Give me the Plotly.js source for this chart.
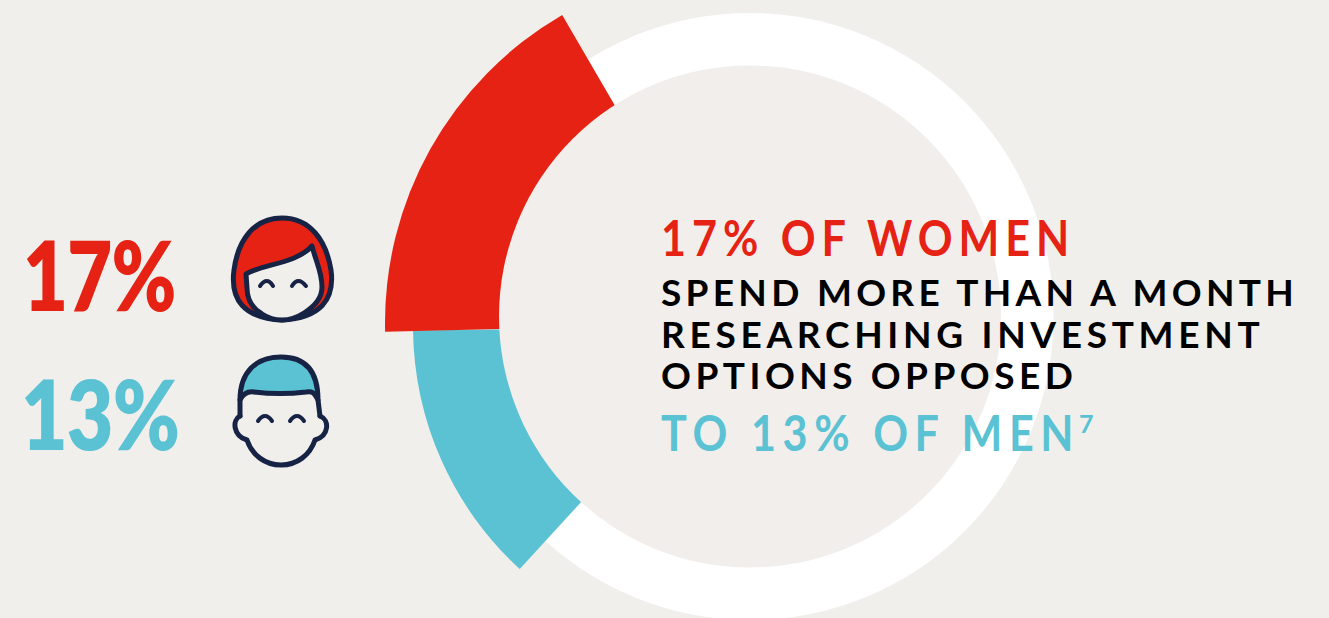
<!DOCTYPE html>
<html>
<head>
<meta charset="utf-8">
<script src="https://cdn.plot.ly/plotly-3.0.1.min.js"></script>
<style>
html,body{margin:0;padding:0;background:#F0EFEB;overflow:hidden;width:1329px;height:618px}
#chart{position:absolute;left:0;top:-131px;width:1329px;height:900px}
.shapelayer path{stroke-linecap:round;stroke-linejoin:round}
.annotation[data-index="0"] text{letter-spacing:-1px;transform-box:fill-box;transform-origin:0 50%;transform:scaleX(.8)}
.annotation[data-index="1"] text{letter-spacing:-1px;transform-box:fill-box;transform-origin:0 50%;transform:scaleX(.83)}
.annotation[data-index="2"] text{letter-spacing:6.8px;transform-box:fill-box;transform-origin:0 50%;transform:scaleX(.88)}
.annotation[data-index="3"] text{letter-spacing:4.3px}
.annotation[data-index="4"] text{letter-spacing:4.7px}
.annotation[data-index="5"] text{letter-spacing:4.5px}
.annotation[data-index="6"] text{letter-spacing:7.5px;transform-box:fill-box;transform-origin:0 50%;transform:scaleX(.88)}
</style>
</head>
<body>
<div id="chart"></div>
<script>
// Data
var groups = ['Women', 'Men'];
var sharePercent = [17, 13];
var bigLabels = ['17%', '13%'];
var textLines = ['17% OF WOMEN', 'SPEND MORE THAN A MONTH', 'RESEARCHING INVESTMENT', 'OPTIONS OPPOSED', 'TO 13% OF MEN', '7'];

// Style
var RED = '#E52213', TEAL = '#5BC2D3', NAVY = '#172344', BG = '#F0EFEB', INNER_BG = '#F1EEEB';
var W = 1329, H = 900, TOP = 131;
var RING_X = 750, RING_Y = 316.5, RING_OUT = 303.5, RING_IN = 251;

function px(x){return x / W;}
function py(y){return (H - (y + TOP)) / H;}
function dom(cx, cy, r){return {x:[px(cx-r), px(cx+r)], y:[py(cy+r), py(cy-r)]};}

function disc(color, r){
  return {type:'pie', values:[100], labels:['All'], sort:false, domain:dom(RING_X, RING_Y, r), textinfo:'none', hoverinfo:'skip',
    showlegend:false, marker:{colors:[color], line:{width:0}}};
}
function arcTrace(value, color, cx, cy, r, rotation, name){
  return {type:'pie', values:[value, 100-value], labels:[name, 'Other'], sort:false, direction:'clockwise',
    rotation:rotation, hole:0.5, domain:dom(cx, cy, r), textinfo:'none', hoverinfo:'skip', showlegend:false,
    marker:{colors:[color,'rgba(0,0,0,0)'], line:{width:0}}};
}
var data = [
  disc('#FFFFFF', RING_OUT),
  arcTrace(sharePercent[1], TEAL, 742, 326.5, 329, 222.5, groups[1]),
  arcTrace(sharePercent[0], RED, 741.5, 323, 356.5, 268.6, groups[0]),
  disc(INNER_BG, RING_IN)
];

function pathOf(s){
  var isX = true;
  return s.replace(/-?\d+(\.\d+)?/g, function(m){
    var v = parseFloat(m), out = isX ? px(v) : py(v);
    isX = !isX;
    return out.toFixed(5);
  });
}
function shape(s, fill, w){
  return {type:'path', xref:'paper', yref:'paper', layer:'above', path:pathOf(s),
    fillcolor:fill||'rgba(0,0,0,0)', line:{color:NAVY, width:w||5}};
}
var shapes = [
  // woman
  shape('M282 218 C310 218 326 240 331 270 C335 300 320 318 282 320 C244 318 230 300 234 270 C238 240 254 218 282 218 Z', RED),
  shape('M246 274 C262 264 296 264 312 246 C316 262 322 272 322 287 C322 300 312 308 304 313 C296 318 290 320 282 320 C274 320 268 318 262 314 C252 308 247 300 247 288 Z', BG),
  shape('M260 286 Q267 276 273 286', null, 4),
  shape('M292 286 Q298 276 306 286', null, 4),
  // man
  shape('M240 400 C240 372 256 357 281 357 C306 357 318 372 318 400 C314 392 312 391 306 392 C290 394 270 394 254 392 C247 391 243 394 240 400 Z', TEAL),
  shape('M240 400 L240 416'),
  shape('M318 400 L320 416'),
  shape('M240 416 C232 420 233 436 247 440 C252 455 265 465 281 465 C297 465 310 455 315 440 C329 436 330 420 320 416'),
  shape('M258 421 Q265 411 272 421', null, 4),
  shape('M290 421 Q297 411 304 421', null, 4)
];

function note(text, x, y, size, color, weight){
  return {text:text, xref:'paper', yref:'paper', x:px(x), y:py(y), xanchor:'left', yanchor:'middle',
    showarrow:false, align:'left', borderpad:0, font:{family:'Lato, sans-serif', size:size, color:color, weight:weight||700}};
}
var annotations = [
  note(bigLabels[0], 22, 274, 97, RED, 800),
  note(bigLabels[1], 20, 412, 97, TEAL, 800),
  note(textLines[0], 660, 237, 49, RED),
  note(textLines[1], 660, 291, 37, '#000000'),
  note(textLines[2], 660, 333, 37, '#000000'),
  note(textLines[3], 660, 375, 37, '#000000'),
  note(textLines[4], 660, 432, 49, TEAL),
  note(textLines[5], 1078, 423, 25, TEAL)
];

Plotly.newPlot('chart', data, {
  width:W, height:H, margin:{l:0,r:0,t:0,b:0},
  paper_bgcolor:BG, plot_bgcolor:BG, showlegend:false,
  shapes:shapes, annotations:annotations
}, {displayModeBar:false, staticPlot:true});
</script>
</body>
</html>
